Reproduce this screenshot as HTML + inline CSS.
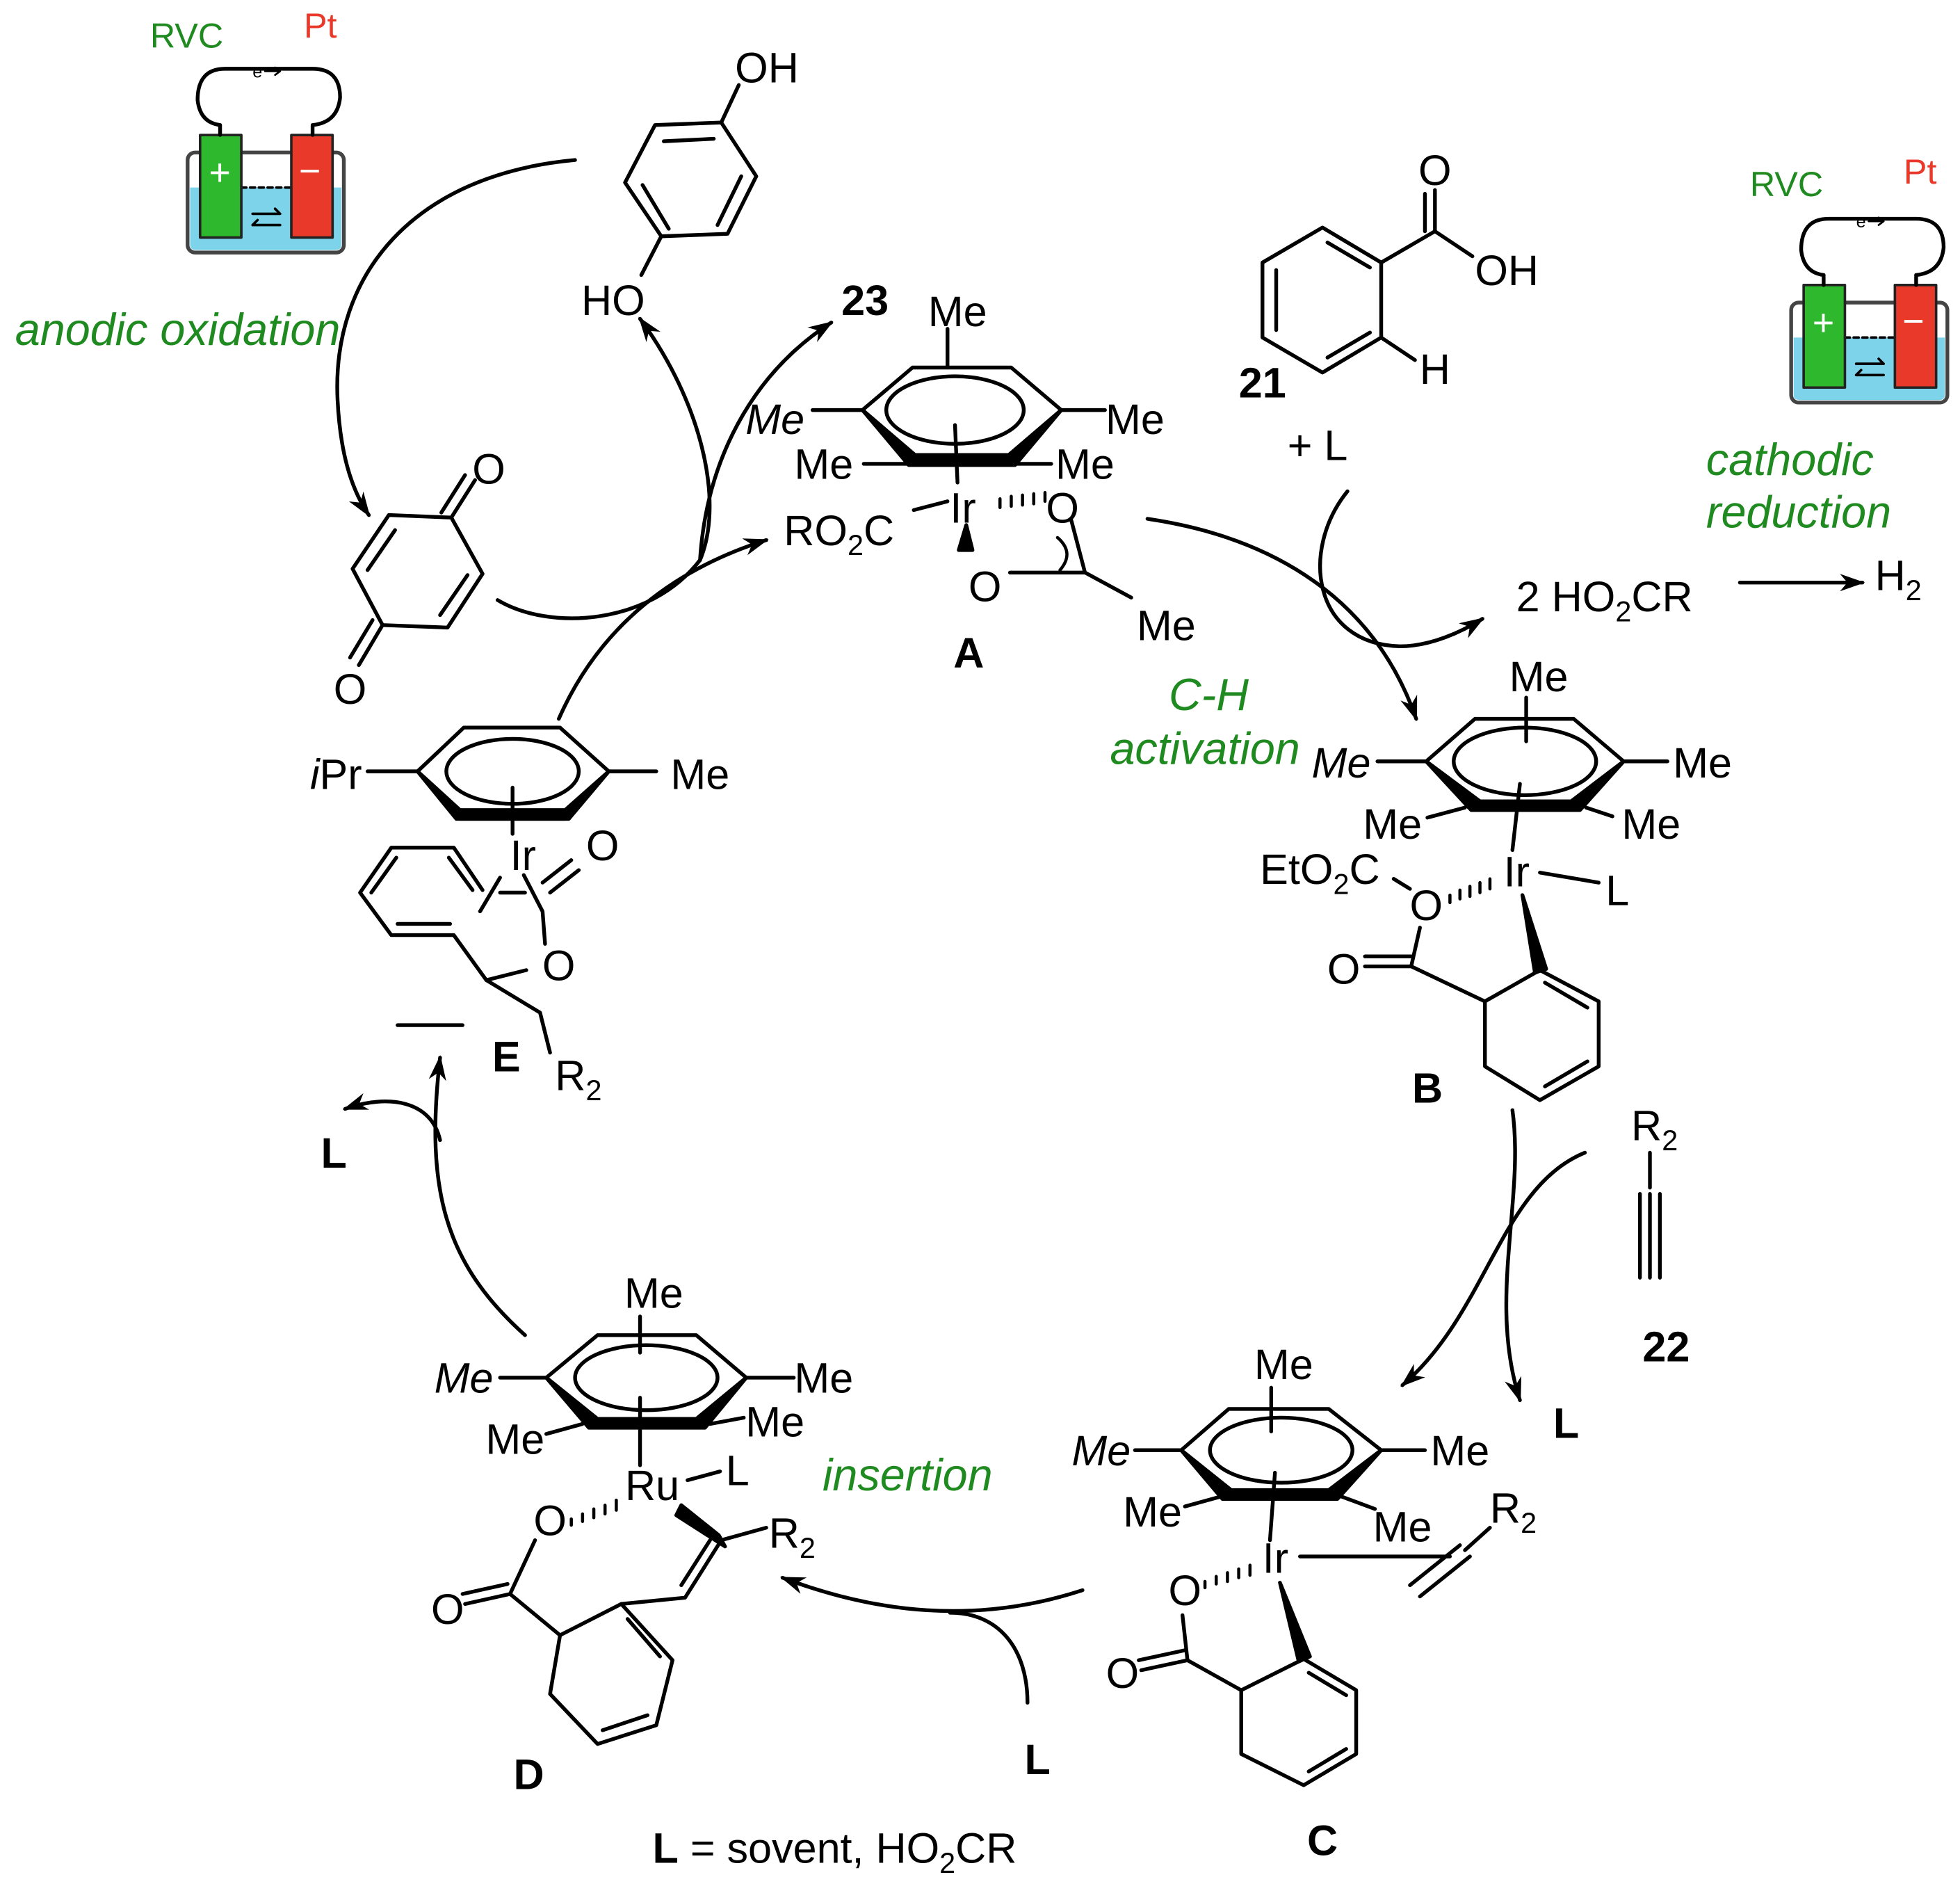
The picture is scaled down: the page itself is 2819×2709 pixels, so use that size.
<!DOCTYPE html>
<html><head><meta charset="utf-8"><style>
html,body{margin:0;padding:0;background:#fff}
svg{display:block}
text{font-family:"Liberation Sans",Arial,sans-serif;font-size:34px;fill:#000}
.b{font-weight:bold;font-size:34px}
.i{font-style:italic}
.g{fill:#1f8a1f;font-style:italic;font-size:36px}
</style></head><body>
<svg width="2819" height="2709" viewBox="0 0 1568 1507" xmlns="http://www.w3.org/2000/svg">
<defs>
<marker id="ah2" viewBox="0 0 10 10" refX="9" refY="5" markerWidth="20" markerHeight="20" orient="auto" markerUnits="userSpaceOnUse"><path d="M0,1.5 L10,5 L0,8.5 L3,5z" fill="#000"/></marker>
</defs>
<g stroke="#000" stroke-width="3" fill="none" stroke-linecap="round" stroke-linejoin="round">

<!-- Left cell -->
<g>
<rect x="150" y="122" width="125" height="80" rx="6" fill="#fff" stroke="#444" stroke-width="3"/>
<path d="M152,150 H273 V196 Q273,200 268,200 H157 Q152,200 152,196 Z" fill="#7dd3ea" stroke="none"/>
<line x1="193" y1="150" x2="233" y2="150" stroke-dasharray="4,3" stroke-width="2"/>
<rect x="160" y="108" width="33" height="82" fill="#2db82d" stroke="#222" stroke-width="2"/>
<rect x="233" y="108" width="33" height="82" fill="#e8392b" stroke="#222" stroke-width="2"/>
<path d="M176,108 V100 Q160,98 158,80 Q158,55 180,55 H250 Q272,55 272,78 Q270,98 250,100 V108" stroke-width="3"/>
<path d="M202,171 H224 M220,167 L224,171 M224,180 H202 M206,176 L202,180" stroke-width="2"/>
<path d="M212,57 H224 M220,54 L224,57 L220,60" stroke-width="1.5"/>
</g>
<!-- Right cell -->
<g transform="translate(1283,120)">
<rect x="150" y="122" width="125" height="80" rx="6" fill="#fff" stroke="#444" stroke-width="3"/>
<path d="M152,150 H273 V196 Q273,200 268,200 H157 Q152,200 152,196 Z" fill="#7dd3ea" stroke="none"/>
<line x1="193" y1="150" x2="233" y2="150" stroke-dasharray="4,3" stroke-width="2"/>
<rect x="160" y="108" width="33" height="82" fill="#2db82d" stroke="#222" stroke-width="2"/>
<rect x="233" y="108" width="33" height="82" fill="#e8392b" stroke="#222" stroke-width="2"/>
<path d="M176,108 V100 Q160,98 158,80 Q158,55 180,55 H250 Q272,55 272,78 Q270,98 250,100 V108" stroke-width="3"/>
<path d="M202,171 H224 M220,167 L224,171 M224,180 H202 M206,176 L202,180" stroke-width="2"/>
<path d="M212,57 H224 M220,54 L224,57 L220,60" stroke-width="1.5"/>
</g>

<!-- hydroquinone -->
<path d="M524,100 L577,98 L605,141 L582,187 L529,189 L500,146 Z"/>
<path d="M531,113 L571,111 M593,141 L574,180 M514,148 L535,183"/>
<path d="M577,98 L591,68 M529,189 L513,220"/>
<!-- benzoquinone -->
<path d="M311,412 L361,414 L386,459 L358,502 L306,500 L282,455 Z"/>
<path d="M316,424 L294,456 M374,460 L352,492"/>
<path d="M361,414 L380,384 M353,410 L372,380 M306,500 L287,532 M298,496 L280,526"/>

<!-- Cp* A -->
<path d="M730,294 L809,294 L849,328 L807,364 L732,364 L690,328 Z"/>
<path d="M690,328 L732,364 L807,364 L849,328 L812,372 L727,372 Z" fill="#000"/>
<ellipse cx="764" cy="328" rx="55" ry="27"/>
<path d="M758,294 V263 M650,328 H690 M849,328 H884 M691,371 H728 M811,371 H841 M764,340 L766,386"/>
<path d="M731,408 L758,401"/>
<path d="M800,399 V406 M809,397 V405 M818,396 V404 M827,395 V403 M836,394 V401" stroke-width="2.5"/>
<path d="M773,420 L767,440 L778,440 Z" fill="#000"/>
<path d="M808,458 H868 L857,416 M868,458 L905,478"/>
<path d="M846,430 Q860,442 848,456" stroke-width="2.5"/>

<!-- benzoic acid 21 -->
<path d="M1058,182 L1105,210 L1105,270 L1058,298 L1010,270 L1010,210 Z"/>
<path d="M1021,216 V264 M1062,194 L1096,214 M1096,266 L1062,286"/>
<path d="M1105,210 L1148,185 L1178,205 M1148,185 V152 M1140,185 V155 M1105,270 L1132,288"/>

<!-- Cp* B -->
<path d="M1180,575 L1259,575 L1299,609 L1257,641 L1184,641 L1141,609 Z"/>
<path d="M1141,609 L1184,641 L1257,641 L1299,609 L1264,648 L1177,648 Z" fill="#000"/>
<ellipse cx="1220" cy="609" rx="57" ry="27"/>
<path d="M1221,558 V593 M1102,609 H1141 M1299,609 H1334 M1142,654 L1172,646 M1269,646 L1290,653 M1216,627 L1210,680"/>
<path d="M1232,698 L1279,706 M1115,703 L1128,711"/>
<path d="M1160,716 v6 M1168,712 v7 M1176,709 v8 M1184,706 v8 M1192,703 v8" stroke-width="2.5"/>
<path d="M1136,742 L1129,773 L1188,801 M1129,773 H1092 M1129,765 H1092"/>
<path d="M1188,801 L1232,776 L1279,801 L1279,853 L1232,880 L1188,853 Z M1236,786 L1270,806 M1270,849 L1236,869"/>
<path d="M1218,716 L1228,778 L1237,775 Z" fill="#000"/>

<!-- alkyne 22 -->
<path d="M1320,922 V950 M1312,955 V1022 M1320,955 V1022 M1328,955 V1022"/>

<!-- Cp* C -->
<path d="M983,1127 L1063,1127 L1105,1160 L1063,1192 L985,1192 L945,1160 Z"/>
<path d="M945,1160 L985,1192 L1063,1192 L1105,1160 L1070,1199 L978,1199 Z" fill="#000"/>
<ellipse cx="1025" cy="1160" rx="57" ry="26"/>
<path d="M1017,1110 V1145 M908,1160 H945 M1105,1160 H1140 M948,1205 L977,1197 M1073,1197 L1100,1207 M1020,1178 L1016,1232"/>
<path d="M1040,1245 H1160 M1128,1268 L1168,1236 M1136,1277 L1176,1245 M1172,1240 L1192,1222"/>
<path d="M964,1265 v5 M973,1261 v6 M982,1258 v7 M991,1255 v7 M1000,1252 v8" stroke-width="2.5"/>
<path d="M946,1292 L950,1328 L993,1352 M950,1328 L913,1336 M948,1320 L911,1328"/>
<path d="M993,1352 L1043,1327 L1085,1352 L1085,1403 L1043,1428 L993,1403 Z M1047,1338 L1077,1356 M1077,1399 L1047,1417"/>
<path d="M1024,1266 L1039,1329 L1048,1325 Z" fill="#000"/>

<!-- Cp* D -->
<path d="M478,1068 L557,1068 L597,1102 L557,1135 L478,1135 L437,1102 Z"/>
<path d="M437,1102 L478,1135 L557,1135 L597,1102 L564,1142 L471,1142 Z" fill="#000"/>
<ellipse cx="517" cy="1102" rx="57" ry="26"/>
<path d="M512,1053 V1082 M400,1102 H437 M597,1102 H635 M437,1147 L466,1139 M568,1139 L595,1134 M512,1118 V1172"/>
<path d="M550,1184 L576,1177"/>
<path d="M457,1215 v5 M466,1211 v6 M475,1207 v7 M484,1204 v7 M493,1200 v8" stroke-width="2.5"/>
<path d="M428,1232 L408,1275 L448,1308 M408,1275 L372,1283 M406,1267 L370,1275"/>
<path d="M448,1308 L497,1283 L538,1328 L525,1380 L478,1395 L440,1355 Z M502,1295 L528,1325 M518,1372 L482,1384"/>
<path d="M497,1283 L548,1278 L577,1232 L613,1222 M545,1268 L568,1232"/>
<path d="M545,1204 L575,1228 L580,1237 L541,1212 Z" fill="#000"/>

<!-- Complex E -->
<path d="M371,582 L448,582 L487,617 L452,655 L368,655 L334,617 Z"/>
<path d="M334,617 L368,648 L452,648 L487,617 L455,655 L365,655 Z" fill="#000"/>
<ellipse cx="410" cy="617" rx="53" ry="26"/>
<path d="M294,617 H334 M487,617 H525 M410,630 V667"/>
<path d="M386,712 L363,678 L313,678 L288,714 L313,748 L363,748 L389,784"/>
<path d="M297,714 L317,686 M359,686 L378,712 M318,739 H360"/>
<path d="M384,729 L400,702 M400,714 H420 M419,700 L434,729 L436,755 M434,706 L457,688 M440,714 L463,696"/>
<path d="M389,784 L421,776 M389,784 L432,810 L440,842 M318,820 H370"/>

<!-- arrows / arcs -->
<path d="M460,128 C330,140 265,220 270,320 C272,360 280,390 295,412" marker-end="url(#ah2)"/>
<path d="M398,480 C440,505 520,500 560,448 C580,400 560,320 512,255" marker-end="url(#ah2)"/>
<path d="M560,448 C565,370 600,300 665,258" marker-end="url(#ah2)"/>
<path d="M447,575 C480,500 540,455 613,432" marker-end="url(#ah2)"/>
<path d="M918,415 C1020,430 1100,480 1133,575" marker-end="url(#ah2)"/>
<path d="M1078,393 C1040,440 1050,515 1120,517 C1145,517 1170,505 1186,495" marker-end="url(#ah2)"/>
<path d="M1392,466 H1490" marker-end="url(#ah2)"/>
<path d="M1210,888 C1220,960 1190,1040 1216,1120" marker-end="url(#ah2)"/>
<path d="M1268,922 C1200,950 1190,1050 1122,1108" marker-end="url(#ah2)"/>
<path d="M866,1272 C780,1300 700,1290 626,1262" marker-end="url(#ah2)"/>
<path d="M822,1362 C822,1320 800,1290 760,1290"/>
<path d="M420,1068 C355,1010 340,950 352,846" marker-end="url(#ah2)"/>
<path d="M352,912 C345,880 310,875 276,887" marker-end="url(#ah2)"/>
</g>

<!-- Labels -->
<text x="120" y="38" style="fill:#1f8a1f;font-size:28px">RVC</text>
<text x="243" y="30" style="fill:#e8392b;font-size:28px">Pt</text>
<text x="202" y="62" style="font-size:14px">e</text>
<text x="1400" y="157" style="fill:#1f8a1f;font-size:28px">RVC</text>
<text x="1523" y="147" style="fill:#e8392b;font-size:28px">Pt</text>
<text x="1485" y="182" style="font-size:14px">e</text>
<text x="167" y="148" style="fill:#fff;font-size:30px">+</text>
<text x="239" y="147" style="fill:#fff;font-size:30px">−</text>
<text x="1450" y="268" style="fill:#fff;font-size:30px">+</text>
<text x="1522" y="267" style="fill:#fff;font-size:30px">−</text>
<text x="12" y="276" class="g">anodic oxidation</text>
<text x="1365" y="380" class="g">cathodic</text>
<text x="1365" y="422" class="g">reduction</text>
<text x="935" y="568" class="g">C-H</text>
<text x="888" y="611" class="g">activation</text>
<text x="658" y="1192" class="g">insertion</text>

<text x="588" y="66">OH</text>
<text x="465" y="252">HO</text>
<text x="391" y="387" text-anchor="middle">O</text>
<text x="280" y="563" text-anchor="middle">O</text>

<text x="692" y="252" class="b" text-anchor="middle">23</text>
<text x="766" y="261" text-anchor="middle">Me</text>
<text x="620" y="347" class="i" text-anchor="middle">Me</text>
<text x="908" y="347" text-anchor="middle">Me</text>
<text x="659" y="383" text-anchor="middle">Me</text>
<text x="868" y="383" text-anchor="middle">Me</text>
<text x="627" y="436">RO<tspan dy="8" style="font-size:23px">2</tspan><tspan dy="-8">C</tspan></text>
<text x="760" y="418">Ir</text>
<text x="850" y="418" text-anchor="middle">O</text>
<text x="788" y="481" text-anchor="middle">O</text>
<text x="933" y="512" text-anchor="middle">Me</text>
<text x="775" y="534" class="b" text-anchor="middle">A</text>

<text x="1148" y="148" text-anchor="middle">O</text>
<text x="1180" y="228">OH</text>
<text x="1148" y="307" text-anchor="middle">H</text>
<text x="1010" y="318" class="b" text-anchor="middle">21</text>
<text x="1030" y="368">+ L</text>
<text x="1213" y="489">2 HO<tspan dy="8" style="font-size:23px">2</tspan><tspan dy="-8">CR</tspan></text>
<text x="1500" y="472">H<tspan dy="8" style="font-size:23px">2</tspan></text>

<text x="1231" y="553" text-anchor="middle">Me</text>
<text x="1073" y="622" class="i" text-anchor="middle">Me</text>
<text x="1362" y="622" text-anchor="middle">Me</text>
<text x="1114" y="671" text-anchor="middle">Me</text>
<text x="1321" y="671" text-anchor="middle">Me</text>
<text x="1008" y="707">EtO<tspan dy="8" style="font-size:23px">2</tspan><tspan dy="-8">C</tspan></text>
<text x="1203" y="709">Ir</text>
<text x="1294" y="724" text-anchor="middle">L</text>
<text x="1141" y="736" text-anchor="middle">O</text>
<text x="1075" y="787" text-anchor="middle">O</text>
<text x="1142" y="882" class="b" text-anchor="middle">B</text>

<text x="1305" y="912">R<tspan dy="8" style="font-size:23px">2</tspan></text>
<text x="1333" y="1089" class="b" text-anchor="middle">22</text>
<text x="1253" y="1150" class="b" text-anchor="middle">L</text>

<text x="1027" y="1103" text-anchor="middle">Me</text>
<text x="881" y="1172" class="i" text-anchor="middle">Me</text>
<text x="1168" y="1172" text-anchor="middle">Me</text>
<text x="922" y="1221" text-anchor="middle">Me</text>
<text x="1122" y="1233" text-anchor="middle">Me</text>
<text x="1010" y="1258">Ir</text>
<text x="1192" y="1218">R<tspan dy="8" style="font-size:23px">2</tspan></text>
<text x="948" y="1284" text-anchor="middle">O</text>
<text x="898" y="1350" text-anchor="middle">O</text>
<text x="1058" y="1484" class="b" text-anchor="middle">C</text>

<text x="830" y="1419" class="b" text-anchor="middle">L</text>
<text x="523" y="1046" text-anchor="middle">Me</text>
<text x="371" y="1114" class="i" text-anchor="middle">Me</text>
<text x="659" y="1114" text-anchor="middle">Me</text>
<text x="412" y="1163" text-anchor="middle">Me</text>
<text x="620" y="1149" text-anchor="middle">Me</text>
<text x="500" y="1200">Ru</text>
<text x="590" y="1188" text-anchor="middle">L</text>
<text x="440" y="1228" text-anchor="middle">O</text>
<text x="615" y="1238">R<tspan dy="8" style="font-size:23px">2</tspan></text>
<text x="358" y="1299" text-anchor="middle">O</text>
<text x="423" y="1431" class="b" text-anchor="middle">D</text>
<text x="522" y="1490"><tspan style="font-weight:bold">L</tspan> = sovent, HO<tspan dy="8" style="font-size:23px">2</tspan><tspan dy="-8">CR</tspan></text>

<text x="248" y="631"><tspan style="font-style:italic">i</tspan>Pr</text>
<text x="560" y="631" text-anchor="middle">Me</text>
<text x="408" y="696">Ir</text>
<text x="482" y="688" text-anchor="middle">O</text>
<text x="447" y="784" text-anchor="middle">O</text>
<text x="405" y="857" class="b" text-anchor="middle">E</text>
<text x="444" y="872">R<tspan dy="8" style="font-size:23px">2</tspan></text>
<text x="267" y="934" class="b" text-anchor="middle">L</text>
</svg>
</body></html>
